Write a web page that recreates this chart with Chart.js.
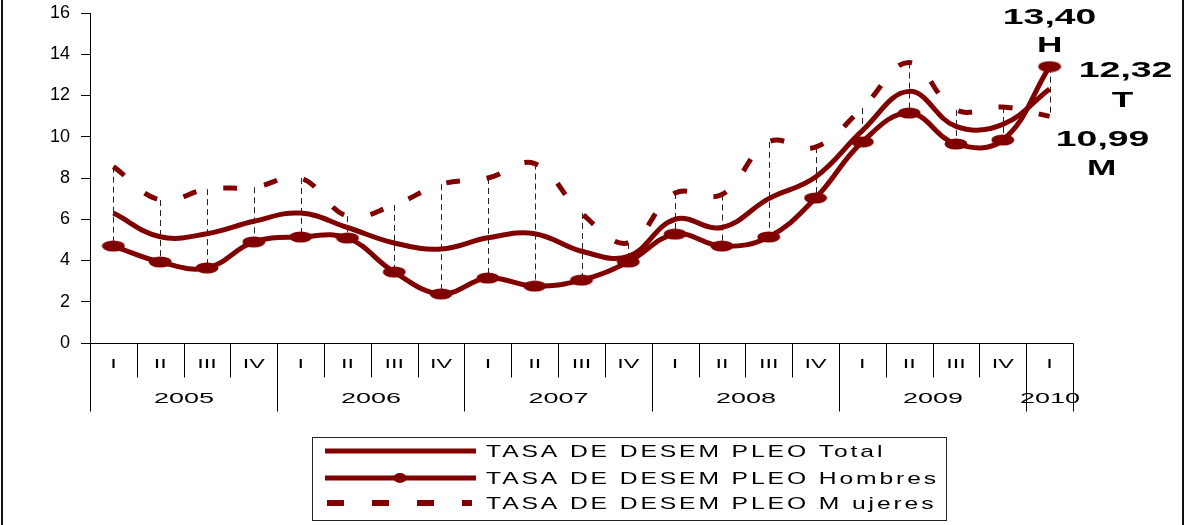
<!DOCTYPE html>
<html>
<head>
<meta charset="utf-8">
<script src="https://cdn.jsdelivr.net/npm/chart.js@4.4.0/dist/chart.umd.min.js"></script>
<style>
    html, body { margin: 0; padding: 0; background: #fff; }
    #wrap { position: relative; width: 1186px; height: 525px; }
</style>
</head>
<body>
<div id="wrap"><canvas id="myChart" width="1186" height="525"></canvas></div>
<script>
// Trimestres y años del eje X
const quarterLabels = ['I', 'II', 'III', 'IV', 'I', 'II', 'III', 'IV', 'I', 'II', 'III', 'IV',
    'I', 'II', 'III', 'IV', 'I', 'II', 'III', 'IV', 'I'];
const yearLabels = ['2005', '2006', '2007', '2008', '2009', '2010'];
const quartersPerYear = [4, 4, 4, 4, 4, 1];

// Series (%)
const total = [6.3, 5.15, 5.3, 5.9, 6.3, 5.6, 4.85, 4.56, 5.1, 5.3, 4.45, 4.2,
    6.0, 5.6, 7.0, 8.05, 10.3, 12.2, 10.5, 10.6, 12.32];
const hombres = [4.7, 3.93, 3.64, 4.9, 5.14, 5.09, 3.44, 2.38, 3.15, 2.76, 3.05, 3.93,
    5.28, 4.7, 5.14, 7.03, 9.75, 11.15, 9.65, 9.84, 13.40];
const mujeres = [8.55, 6.93, 7.46, 7.55, 8.0, 6.15, 6.7, 7.7, 8.0, 8.7, 6.3, 4.85,
    7.27, 7.2, 9.75, 9.5, 11.4, 13.6, 11.3, 11.44, 10.99];

const seriesNames = [
    'TASA DE DESEM PLEO Total',
    'TASA DE DESEM PLEO Hombres',
    'TASA DE DESEM PLEO M ujeres'
];
const yMin = 0, yMax = 16, yStep = 2;

const red = 'rgb(128, 0, 0)';
const fontFamily = '"Liberation Sans", Arial, sans-serif';

// marcador elíptico (el original está estirado en horizontal)
const marker = document.createElement('canvas');
marker.width = 24;
marker.height = 12;
const mctx = marker.getContext('2d');
mctx.fillStyle = red;
mctx.beginPath();
mctx.ellipse(12, 6, 11.5, 5.5, 0, 0, Math.PI * 2);
mctx.fill();

function drawText(ctx, text, x, y, font, sx, spacing, align) {
    ctx.save();
    ctx.font = font;
    ctx.fillStyle = '#000';
    ctx.textBaseline = 'middle';
    ctx.letterSpacing = (spacing || 0) + 'px';
    ctx.translate(x, y);
    ctx.scale(sx || 1, 1);
    const w = ctx.measureText(text).width;
    let x0 = 0;
    if (align === 'center' || !align) x0 = -w / 2 + (spacing || 0) / 2;
    ctx.textAlign = 'left';
    ctx.fillText(text, x0, 0);
    ctx.restore();
}

const tags = quarterLabels.map((q, i) => q + '-' + i);

// líneas de máximo-mínimo
const hiLoLines = {
    id: 'hiLoLines',
    beforeDatasetsDraw(chart) {
        const {ctx, scales: {x, y}} = chart;
        ctx.save();
        ctx.strokeStyle = '#222';
        ctx.lineWidth = 1;
        ctx.setLineDash([6, 4]);
        for (let i = 0; i < quarterLabels.length; i++) {
            const vals = [total[i], hombres[i], mujeres[i]];
            const px = Math.round(x.getPixelForValue(i)) + 0.5;
            ctx.beginPath();
            ctx.moveTo(px, y.getPixelForValue(Math.max(...vals)));
            ctx.lineTo(px, y.getPixelForValue(Math.min(...vals)));
            ctx.stroke();
        }
        ctx.restore();
    }
};

// eje X de dos niveles, leyenda, etiquetas finales y marco
const extras = {
    id: 'extras',
    afterDraw(chart) {
        const {ctx, scales: {x}, chartArea} = chart;
        const step = x.getPixelForValue(1) - x.getPixelForValue(0);
        const base = chartArea.bottom + 0.5;
        const n = quarterLabels.length;
        const edge = i => Math.round(x.getPixelForValue(0) - step / 2 + i * step) + 0.5;

        ctx.save();
        ctx.strokeStyle = '#000';
        ctx.lineWidth = 1;
        ctx.beginPath();
        ctx.moveTo(edge(0), base);
        ctx.lineTo(edge(n), base);
        ctx.stroke();

        const yearEdges = [0];
        quartersPerYear.forEach(c => yearEdges.push(yearEdges[yearEdges.length - 1] + c));
        for (let i = 0; i <= n; i++) {
            const len = yearEdges.includes(i) ? 68 : 34;
            ctx.beginPath();
            ctx.moveTo(edge(i), base);
            ctx.lineTo(edge(i), base + len);
            ctx.stroke();
        }
        ctx.restore();

        for (let i = 0; i < n; i++) {
            drawText(ctx, quarterLabels[i], x.getPixelForValue(i), base + 21,
                '13px ' + fontFamily, 1.8, 0, 'center');
        }
        yearLabels.forEach((yr, k) => {
            const cx = (edge(yearEdges[k]) + edge(yearEdges[k + 1])) / 2;
            drawText(ctx, yr, cx, base + 55, '15px ' + fontFamily, 1.8, 0, 'center');
        });

        // etiquetas de los últimos valores
        const last = n - 1;
        const fmt = v => v.toFixed(2).replace('.', ',');
        const bold = 'bold 22px ' + fontFamily;
        const pH = chart.getDatasetMeta(1).data[last];
        const pT = chart.getDatasetMeta(0).data[last];
        const pM = chart.getDatasetMeta(2).data[last];
        drawText(ctx, fmt(hombres[last]), pH.x, pH.y - 49, bold, 1.7, 0, 'center');
        drawText(ctx, 'H', pH.x, pH.y - 21, bold, 1.6, 0, 'center');
        drawText(ctx, fmt(total[last]), pT.x + 76, pT.y - 18, bold, 1.7, 0, 'center');
        drawText(ctx, 'T', pT.x + 73, pT.y + 12, bold, 1.6, 0, 'center');
        drawText(ctx, fmt(mujeres[last]), pM.x + 53, pM.y + 24, bold, 1.7, 0, 'center');
        drawText(ctx, 'M', pM.x + 52, pM.y + 53, bold, 1.6, 0, 'center');

        // leyenda
        ctx.save();
        ctx.strokeStyle = '#222';
        ctx.lineWidth = 1;
        ctx.strokeRect(312.5, 437.5, 634, 83);
        const rows = [451, 478, 503];
        ctx.strokeStyle = red;
        ctx.fillStyle = red;
        ctx.lineWidth = 5;
        ctx.beginPath();
        ctx.moveTo(325, rows[0]);
        ctx.lineTo(476, rows[0]);
        ctx.stroke();
        ctx.beginPath();
        ctx.moveTo(325, rows[1]);
        ctx.lineTo(476, rows[1]);
        ctx.stroke();
        ctx.beginPath();
        ctx.ellipse(400, rows[1], 6.5, 5, 0, 0, Math.PI * 2);
        ctx.fill();
        ctx.lineWidth = 6;
        ctx.setLineDash([17, 28]);
        ctx.beginPath();
        ctx.moveTo(327, rows[2]);
        ctx.lineTo(472, rows[2]);
        ctx.stroke();
        ctx.restore();
        seriesNames.forEach((s, i) => {
            drawText(ctx, s, 486, rows[i] + 1, '17px ' + fontFamily, 1.45, 2, 'left');
        });

        // marco exterior
        ctx.save();
        ctx.fillStyle = '#111';
        ctx.fillRect(1, 0, 2, 525);
        ctx.fillRect(1182, 0, 2, 525);
        ctx.restore();
    }
};

const data = {
    labels: tags,
    datasets: [
        {
            label: seriesNames[0],
            data: total,
            borderColor: red,
            backgroundColor: red,
            borderWidth: 5,
            pointRadius: 0,
            tension: 0.4,
            order: 2
        },
        {
            label: seriesNames[1],
            data: hombres,
            borderColor: red,
            backgroundColor: red,
            borderWidth: 5,
            pointRadius: 5,
            pointStyle: marker,
            tension: 0.4,
            order: 1
        },
        {
            label: seriesNames[2],
            data: mujeres,
            borderColor: red,
            backgroundColor: red,
            borderWidth: 5,
            borderDash: [14, 27],
            borderCapStyle: 'butt',
            pointRadius: 0,
            tension: 0.4,
            order: 3
        }
    ]
};

const config = {
    type: 'line',
    data: data,
    options: {
        responsive: false,
        animation: false,
        layout: { padding: { top: 13, right: 113, bottom: 182, left: 0 } },
        plugins: {
            legend: { display: false },
            tooltip: { enabled: false }
        },
        scales: {
            x: {
                type: 'category',
                offset: true,
                display: false
            },
            y: {
                min: yMin,
                max: yMax,
                afterFit: s => {
                    s.width = 90;
                    s.paddingTop = 0;
                    s.paddingBottom = 0;
                },
                ticks: {
                    stepSize: yStep,
                    color: '#000',
                    padding: 11,
                    font: { family: fontFamily, size: 18 }
                },
                grid: {
                    drawOnChartArea: false,
                    drawTicks: true,
                    tickLength: 9,
                    color: '#000'
                },
                border: { display: true, color: '#000', width: 1 }
            }
        }
    },
    plugins: [hiLoLines, extras]
};

var myChart = new Chart(document.getElementById('myChart'), config);
</script>
</body>
</html>
